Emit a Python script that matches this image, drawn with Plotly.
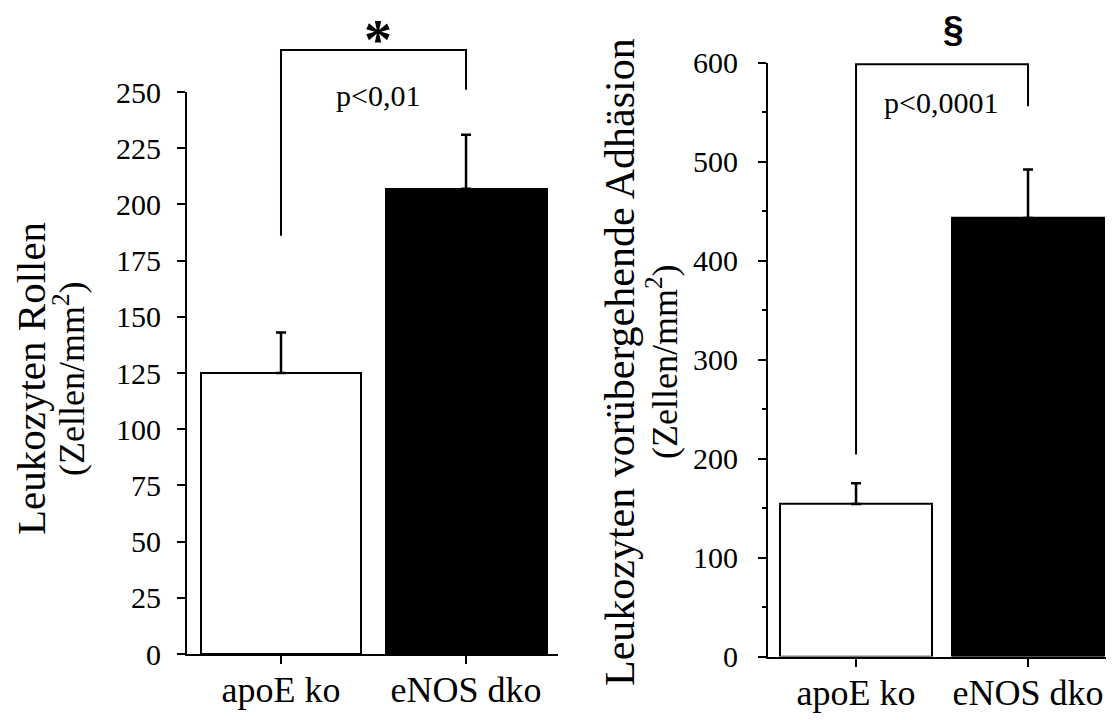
import plotly.graph_objects as go

# ---------------- data ----------------
categories = ["apoE ko", "eNOS dko"]
rolling_mean = [125, 207]
rolling_err = [18, 24]
adhesion_mean = [154, 443]
adhesion_err = [21, 49]
bar_colors = ["white", "black"]

rolling_ticks = [0, 25, 50, 75, 100, 125, 150, 175, 200, 225, 250]
adhesion_ticks = [0, 100, 200, 300, 400, 500, 600]

rolling_title = ["Leukozyten Rollen", "(Zellen/mm<sup>2</sup>)"]
adhesion_title = ["Leukozyten vorübergehende Adhäsion", "(Zellen/mm<sup>2</sup>)"]
rolling_p = "p&lt;0,01"
adhesion_p = "p&lt;0,0001"
rolling_sig = "<b>*</b>"
adhesion_sig = "<b>§</b>"

# ---------------- layout geometry ----------------
OFF = 8  # page body margin
W, H = 1114 - OFF, 720 - OFF
SERIF = "Liberation Serif, Times New Roman, serif"
SANS = "Liberation Sans, Arial, sans-serif"

def px_x(p):
    return (p - OFF) / W

def px_y(p):
    return (H - (p - OFF)) / H

L_XDOM = [px_x(187), px_x(558)]
L_YDOM = [px_y(654), px_y(92)]
L_XR = [-0.508, 1.497]
L_YR = [0, 250]
R_XDOM = [px_x(768), px_x(1114)]
R_YDOM = [px_y(656.5), px_y(62.7)]
R_XR = [-0.512, 1.5]
R_YR = [0, 600]


def to_paper(v, dom, rng):
    return dom[0] + (v - rng[0]) / (rng[1] - rng[0]) * (dom[1] - dom[0])


fig = go.Figure()

fig.add_trace(go.Bar(
    x=[0, 1], y=rolling_mean, width=0.87,
    marker=dict(color=bar_colors, line=dict(color="black", width=2)),
    error_y=dict(type="data", symmetric=False, array=rolling_err, arrayminus=[0, 0],
                 color="black", thickness=2.5, width=5),
    xaxis="x", yaxis="y", showlegend=False,
))
fig.add_trace(go.Bar(
    x=[0, 1], y=adhesion_mean, width=0.88,
    marker=dict(color=bar_colors, line=dict(color="black", width=2)),
    error_y=dict(type="data", symmetric=False, array=adhesion_err, arrayminus=[0, 0],
                 color="black", thickness=2.5, width=5),
    xaxis="x2", yaxis="y2", showlegend=False,
))

axis_common = dict(showline=True, linecolor="black", linewidth=2, ticks="outside",
                   tickcolor="black", tickwidth=2, ticklen=8, showgrid=False,
                   zeroline=False, mirror=False, automargin=False)

fig.update_layout(
    width=W, height=H,
    margin=dict(l=0, r=0, t=0, b=0, autoexpand=False),
    paper_bgcolor="white", plot_bgcolor="white",
    font=dict(family=SERIF, color="black"),
    bargap=0,
    xaxis=dict(domain=L_XDOM, range=L_XR, tickvals=[0, 1], ticktext=categories,
               anchor="y", tickfont=dict(size=36, family=SERIF), ticklabelstandoff=-5,
               **axis_common),
    yaxis=dict(domain=L_YDOM, range=L_YR, tickvals=rolling_ticks, anchor="x",
               tickfont=dict(size=30, family=SERIF), ticklabelstandoff=10,
               **axis_common),
    xaxis2=dict(domain=R_XDOM, range=R_XR, tickvals=[0, 1], ticktext=categories,
                anchor="y2", tickfont=dict(size=36, family=SERIF), ticklabelstandoff=-5,
                **axis_common),
    yaxis2=dict(domain=R_YDOM, range=R_YR, tickvals=adhesion_ticks, anchor="x2",
                tickfont=dict(size=30, family=SERIF), ticklabelstandoff=14,
                minor=dict(ticks="outside", dtick=50, ticklen=4, tickwidth=2, tickcolor="black"),
                **axis_common),
)

# ---------------- brackets ----------------
def bracket(xdom, xrng, ydom, yrng, y_left, y_top, y_right):
    x0 = to_paper(0, xdom, xrng)
    x1 = to_paper(1, xdom, xrng)
    yl = to_paper(y_left, ydom, yrng)
    yt = to_paper(y_top, ydom, yrng)
    yr = to_paper(y_right, ydom, yrng)
    fig.add_shape(type="path", xref="paper", yref="paper",
                  path=f"M {x0},{yl} L {x0},{yt} L {x1},{yt} L {x1},{yr}",
                  line=dict(color="black", width=2))

bracket(L_XDOM, L_XR, L_YDOM, L_YR, 186, 268.7, 251)
bracket(R_XDOM, R_XR, R_YDOM, R_YR, 204, 598.5, 556)

# ---------------- annotations ----------------
def ann(text, x, y, size, family=SERIF, angle=0, yanchor="middle"):
    fig.add_annotation(text=text, x=x, y=y, xref="paper", yref="paper",
                       showarrow=False, xanchor="center", yanchor=yanchor,
                       textangle=angle, borderpad=0,
                       font=dict(size=size, family=family, color="black"))

ann(rolling_p, px_x(378), px_y(96), 30)
ann(adhesion_p, px_x(941), px_y(102), 30)
ann(rolling_sig, px_x(378), 1.0, 56, yanchor="top")
ann(adhesion_sig, px_x(953), 1.0, 37, family=SANS, yanchor="top")

ann(rolling_title[0], px_x(31), px_y(379), 41, angle=-90)
ann(rolling_title[1], px_x(69), px_y(379), 36, angle=-90)
ann(adhesion_title[0], px_x(620), px_y(362), 42, angle=-90)
ann(adhesion_title[1], px_x(662), px_y(362), 36, angle=-90)

fig.write_html("out.html")
